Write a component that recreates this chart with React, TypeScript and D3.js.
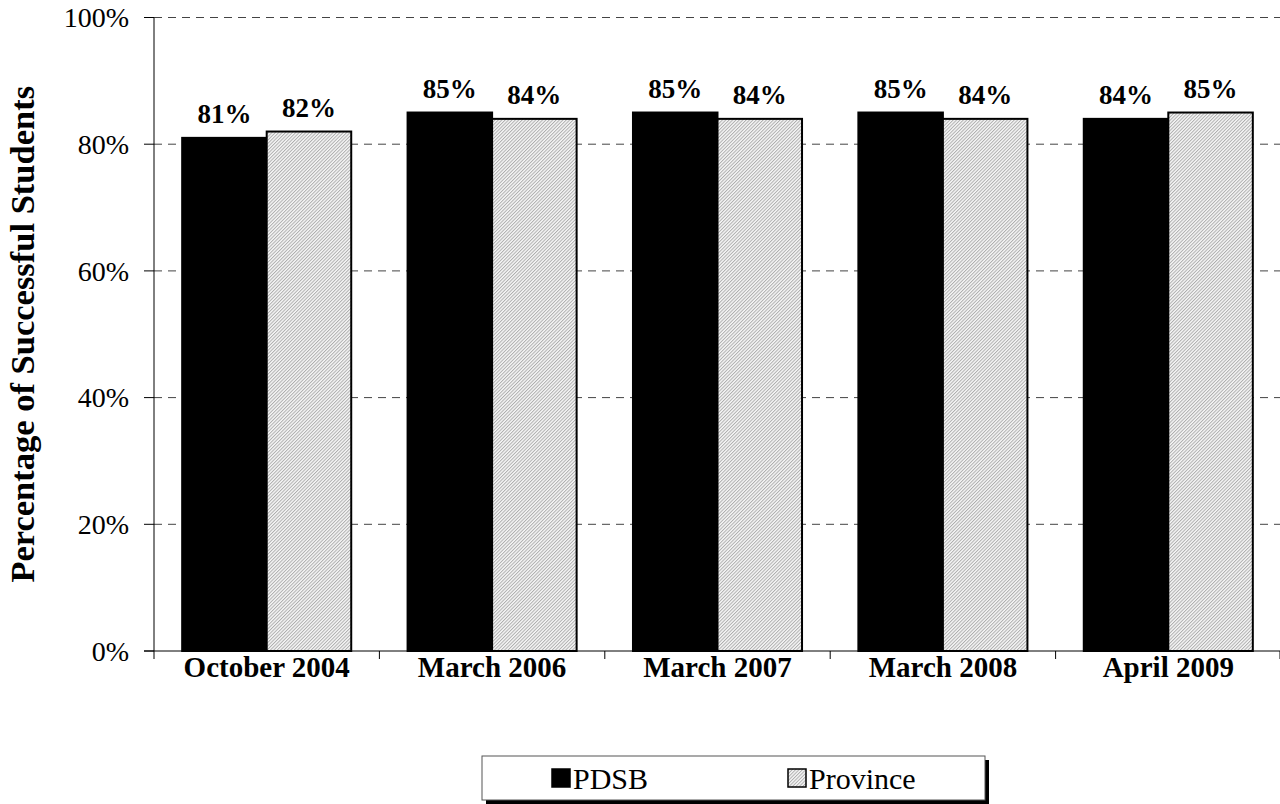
import React from "react";
import * as d3 from "d3";

const categories = ["October 2004", "March 2006", "March 2007", "March 2008", "April 2009"];
const pdsbValues = [81, 85, 85, 85, 84];
const provinceValues = [82, 84, 84, 84, 85];
const yTicks = [0, 20, 40, 60, 80, 100];
const seriesNames = ["PDSB", "Province"];

const W = 1280;
const H = 804;
const left = 154;
const right = 1281;
const top = 17.5;
const bottom = 651;
const serif = "'Liberation Serif', 'Times New Roman', Times, serif";

export default function App() {
  const x = d3.scaleBand<string>().domain(categories).range([left, right]).padding(0);
  const y = d3.scaleLinear().domain([0, 100]).range([bottom, top]);
  const bw = x.bandwidth();
  const barW = bw * 0.375;
  const offset = (bw - 2 * barW) / 2;

  const series = [
    { name: seriesNames[0], values: pdsbValues, fill: "#000" },
    { name: seriesNames[1], values: provinceValues, fill: "url(#hatch)" },
  ];

  return (
    <svg
      width={W}
      height={H}
      style={{ position: "absolute", left: 0, top: 0, background: "#fff" }}
      fontFamily={serif}
    >
      <defs>
        <pattern id="hatch" width="2.4" height="2.4" patternUnits="userSpaceOnUse" patternTransform="rotate(45)">
          <rect width="2.4" height="2.4" fill="#f6f6f6" />
          <line x1="0.5" y1="0" x2="0.5" y2="2.4" stroke="#a8a8a8" strokeWidth="0.9" />
        </pattern>
      </defs>

      {/* gridlines */}
      {yTicks.filter((t) => t > 0).map((t) => (
        <line
          key={"g" + t}
          x1={left}
          x2={right}
          y1={y(t)}
          y2={y(t)}
          stroke="#444"
          strokeWidth={1}
          strokeDasharray="8,6"
        />
      ))}

      {/* bars */}
      {series.map((s, si) =>
        s.values.map((v, i) => {
          const bx = (x(categories[i]) as number) + offset + si * barW;
          return (
            <rect
              key={s.name + i}
              x={bx}
              y={y(v)}
              width={barW}
              height={y(0) - y(v)}
              fill={s.fill}
              stroke="#000"
              strokeWidth={2}
            />
          );
        })
      )}

      {/* value labels */}
      {series.map((s, si) =>
        s.values.map((v, i) => {
          const cx = (x(categories[i]) as number) + offset + si * barW + barW / 2;
          return (
            <text
              key={"l" + s.name + i}
              x={cx}
              y={y(v) - 15}
              textAnchor="middle"
              fontSize={27}
              fontWeight="bold"
            >
              {v}%
            </text>
          );
        })
      )}

      {/* axes */}
      <line x1={left} x2={left} y1={top} y2={bottom} stroke="#000" strokeWidth={1} />
      <line x1={left - 10} x2={right} y1={bottom} y2={bottom} stroke="#000" strokeWidth={1} />
      {yTicks.map((t) => (
        <g key={"t" + t}>
          <line x1={left - 10} x2={left} y1={y(t)} y2={y(t)} stroke="#000" />
          <text x={129} y={y(t)} dy="0.35em" textAnchor="end" fontSize={28}>
            {t}%
          </text>
        </g>
      ))}
      {categories.map((c, i) => (
        <line
          key={"xt" + i}
          x1={(x(c) as number)}
          x2={(x(c) as number)}
          y1={bottom}
          y2={bottom + 8}
          stroke="#000"
        />
      ))}
      <line x1={right - 1} x2={right - 1} y1={bottom} y2={bottom + 8} stroke="#000" />
      {categories.map((c) => (
        <text
          key={"c" + c}
          x={(x(c) as number) + bw / 2}
          y={667}
          dy="0.35em"
          textAnchor="middle"
          fontSize={29}
          fontWeight="bold"
        >
          {c}
        </text>
      ))}

      {/* axis title */}
      <text
        transform={`translate(22,${(top + bottom) / 2}) rotate(-90)`}
        textAnchor="middle"
        dy="0.35em"
        fontSize={34.5}
        fontWeight="bold"
      >
        Percentage of Successful Students
      </text>

      {/* legend */}
      <rect x={486} y={760} width={503} height={44} fill="#000" />
      <rect x={482} y={756} width={503} height={44} fill="#fff" stroke="#555" strokeWidth={1} />
      {series.map((s, si) => {
        const lx = si === 0 ? 552 : 788;
        return (
          <g key={"lg" + s.name}>
            <rect x={lx} y={769} width={18} height={18} fill={s.fill} stroke="#000" strokeWidth={1.5} />
            <text x={lx + 21} y={778} dy="0.35em" fontSize={30}>
              {s.name}
            </text>
          </g>
        );
      })}
    </svg>
  );
}
